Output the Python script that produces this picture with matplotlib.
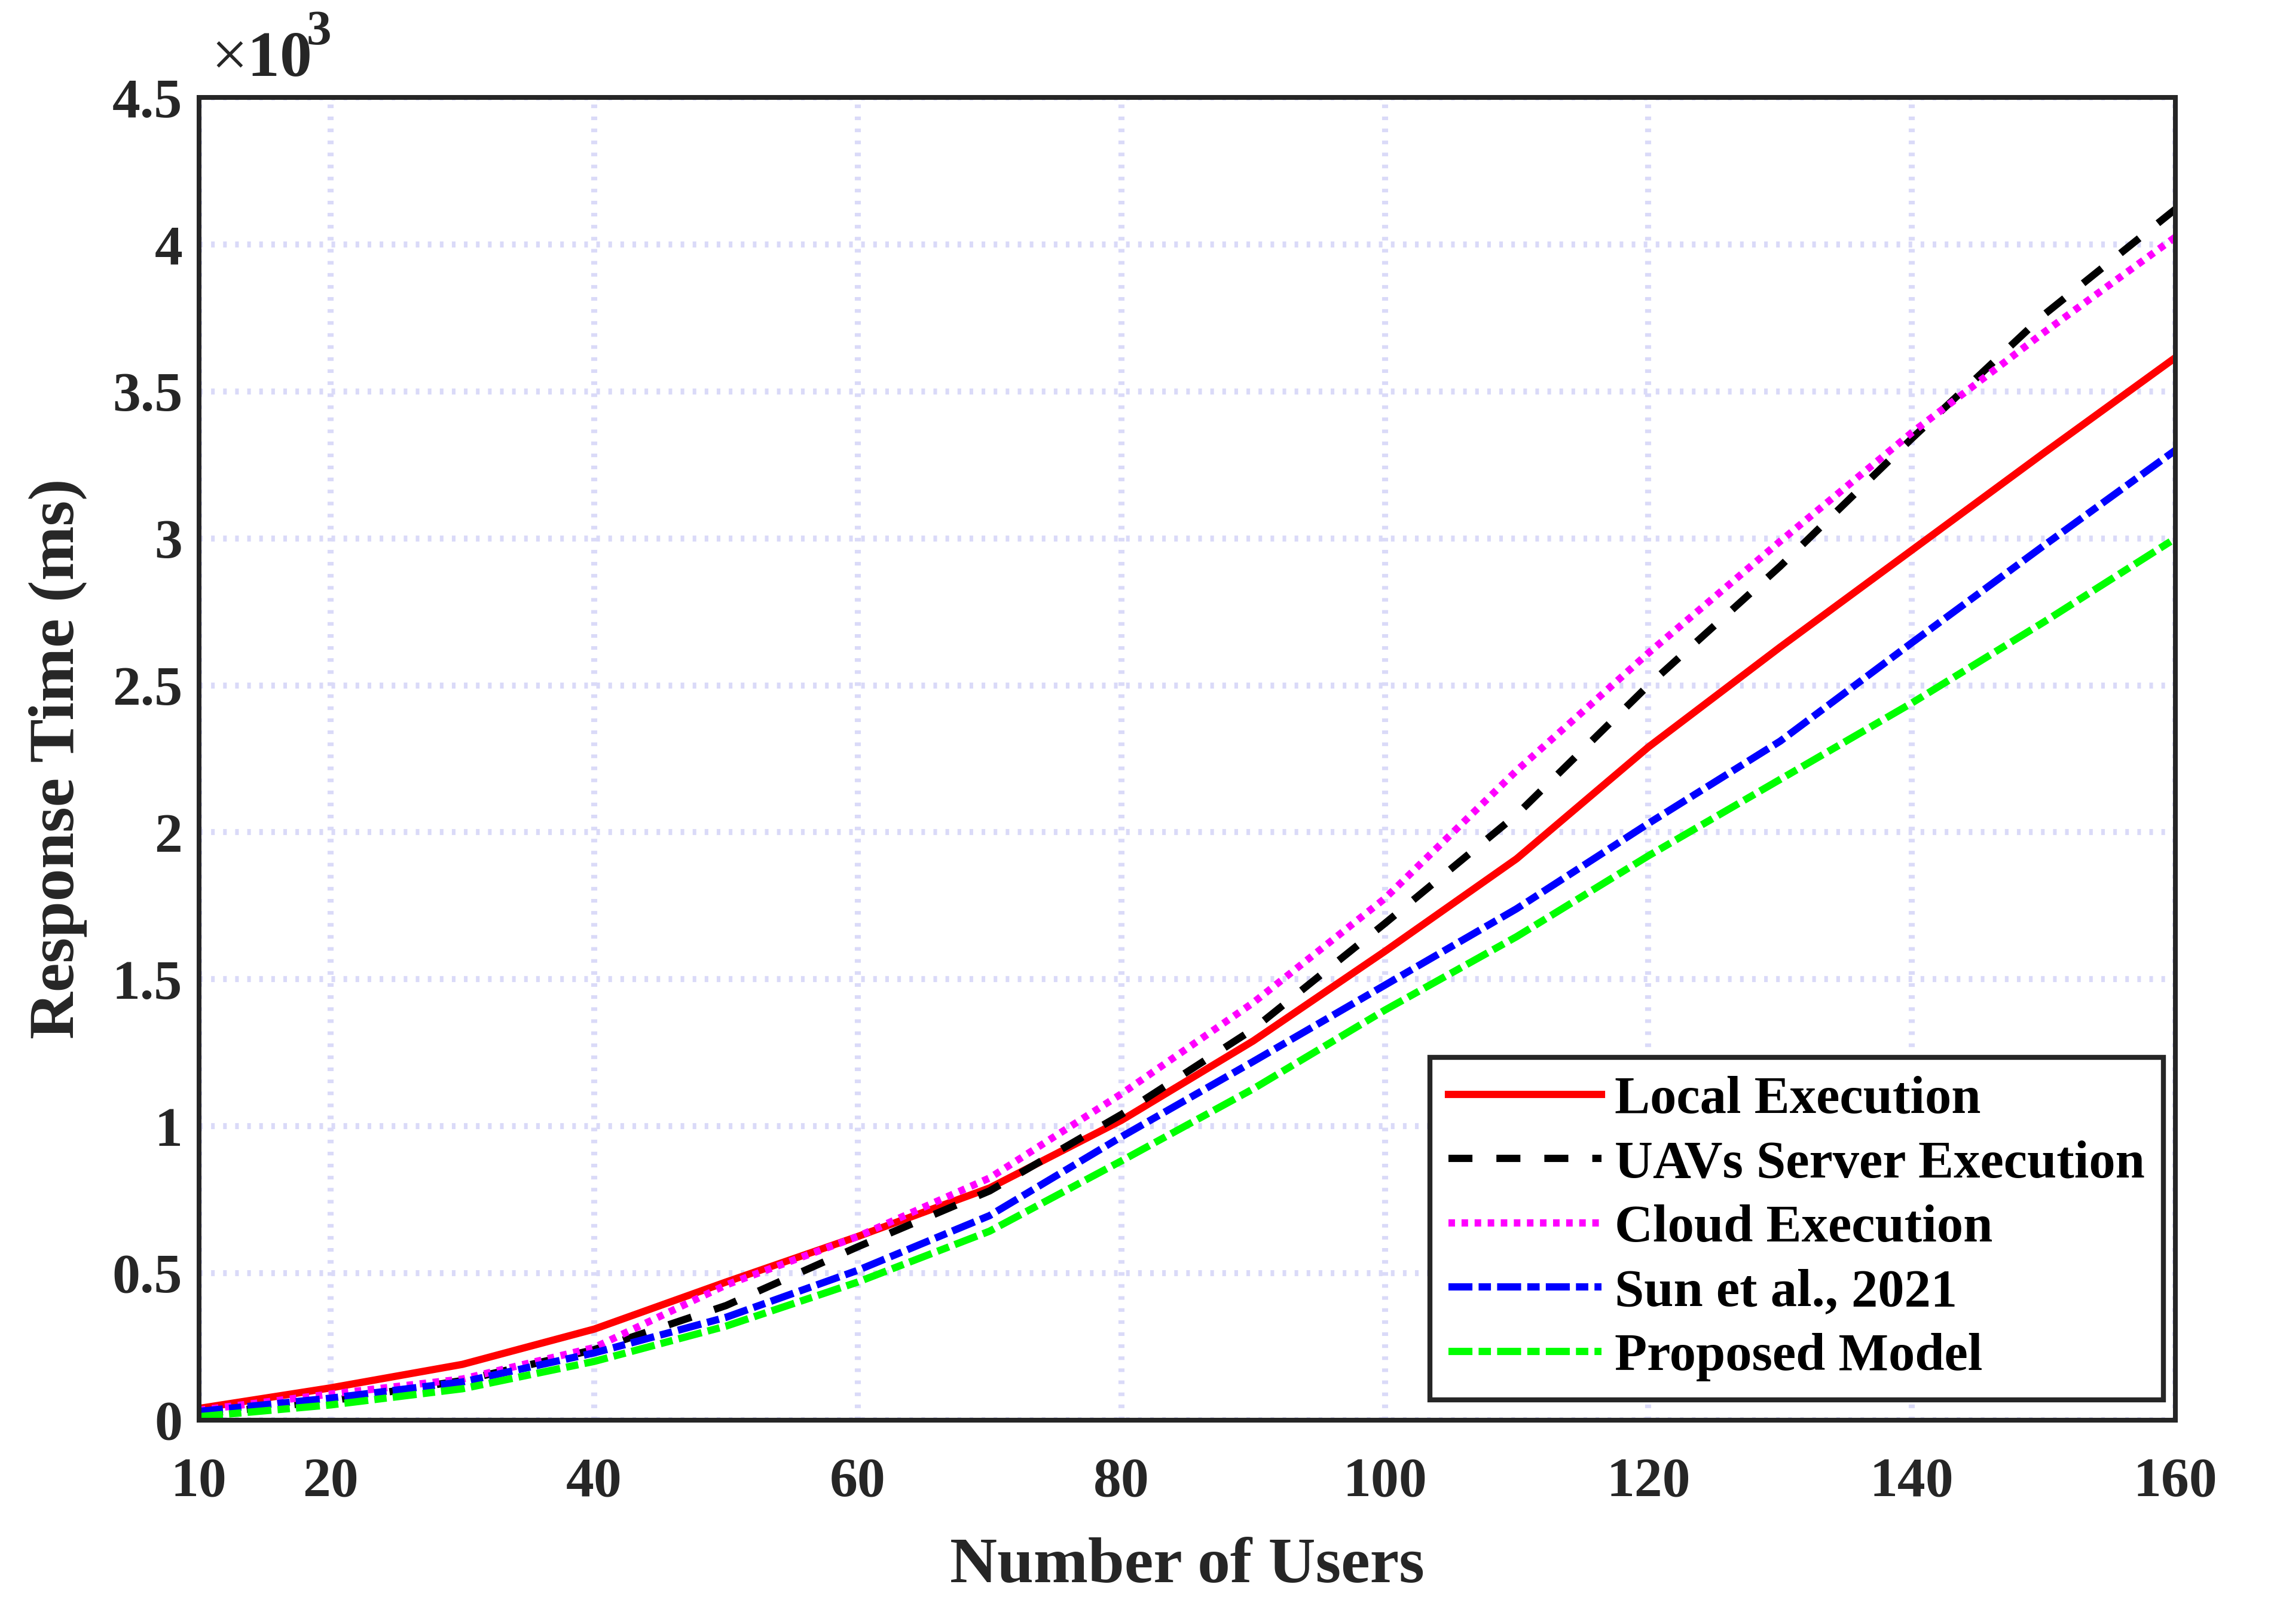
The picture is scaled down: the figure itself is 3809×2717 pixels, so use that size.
import matplotlib
matplotlib.use("Agg")
import matplotlib.pyplot as plt

# data (ms)
users = [10, 20, 30, 40, 50, 60, 70, 80, 90, 100, 110, 120, 130, 140, 150, 160]
local_exec = [40, 110, 190, 310, 470, 625, 790, 1020, 1290, 1595, 1910, 2290, 2630, 2960, 3290, 3615]
uav_exec = [20, 66, 135, 240, 390, 590, 780, 1040, 1330, 1690, 2060, 2500, 2905, 3340, 3760, 4120]
cloud_exec = [34, 89, 140, 247, 460, 625, 824, 1110, 1420, 1775, 2210, 2610, 2990, 3360, 3700, 4025]
sun_2021 = [30, 75, 130, 229, 350, 510, 696, 964, 1220, 1480, 1740, 2030, 2310, 2645, 2975, 3300]
proposed = [12, 52, 107, 200, 320, 470, 643, 882, 1127, 1395, 1645, 1920, 2180, 2440, 2715, 3000]

xticks = [10, 20, 40, 60, 80, 100, 120, 140, 160]
yticks = [0, 500, 1000, 1500, 2000, 2500, 3000, 3500, 4000, 4500]
ytick_labels = ["0", "0.5", "1", "1.5", "2", "2.5", "3", "3.5", "4", "4.5"]

plt.rcParams['font.family'] = ['Liberation Serif', 'DejaVu Serif']
plt.rcParams['mathtext.fontset'] = 'custom'
plt.rcParams['mathtext.rm'] = 'Liberation Serif'
plt.rcParams['mathtext.bf'] = 'Liberation Serif:bold'

dark = '#262626'
fig = plt.figure(figsize=(3809 / 250, 2717 / 250), dpi=250)
ax = fig.add_axes([0.0874, 0.1255, 0.868, 0.8145])

lw = 3.5
ax.plot(users, local_exec, color='#ff0000', lw=lw, ls='-', label='Local Execution')
ax.plot(users, uav_exec, color='#000000', lw=lw, dashes=(3.3, 3.3), label='UAVs Server Execution')
ax.plot(users, cloud_exec, color='#ff00ff', lw=lw, dashes=(0.9, 0.9), label='Cloud Execution')
ax.plot(users, sun_2021, color='#0000ff', lw=lw, dashes=(3.3, 0.85, 1.7, 0.85), label='Sun et al., 2021')
ax.plot(users, proposed, color='#00ff00', lw=lw, dashes=(3.3, 0.85, 1.7, 0.85), label='Proposed Model')

ax.set_xlim(10, 160)
ax.set_ylim(0, 4500)
ax.set_xticks(xticks)
ax.set_yticks(yticks)
ax.set_yticklabels(ytick_labels)
ax.tick_params(axis='both', length=0, labelsize=27, colors=dark)
ax.tick_params(axis='x', pad=18)
ax.tick_params(axis='y', pad=8)
for lab in ax.get_xticklabels() + ax.get_yticklabels():
    lab.set_fontweight('bold')

ax.grid(True, ls=(0, (0.6, 1.4)), color='#dadaf8', lw=2.9)
ax.set_axisbelow(True)
for s in ax.spines.values():
    s.set_linewidth(2.3)
    s.set_color(dark)

ax.set_xlabel('Number of Users', fontsize=31.5, fontweight='bold', color=dark, labelpad=14)
ax.set_ylabel('Response Time (ms)', fontsize=31.5, fontweight='bold', color=dark, labelpad=12)

# multiplier above the y axis
ax.text(0.006, 1.006, r'$\times\mathbf{10}$', transform=ax.transAxes,
        fontsize=31, color=dark, ha='left', va='bottom')
ax.text(0.0545, 1.032, '3', transform=ax.transAxes, fontweight='bold',
        fontsize=24, color=dark, ha='left', va='bottom')

leg = ax.legend(loc='lower right', bbox_to_anchor=(0.994, 0.0154),
                prop={'weight': 'bold', 'size': 25.5}, frameon=True, fancybox=False,
                handlelength=2.9, handletextpad=0.25, labelspacing=0.30,
                borderpad=0.35, borderaxespad=0.0)
leg.get_frame().set_edgecolor(dark)
leg.get_frame().set_linewidth(2.4)
leg.get_frame().set_alpha(1)

fig.savefig('out.png', dpi=250)
